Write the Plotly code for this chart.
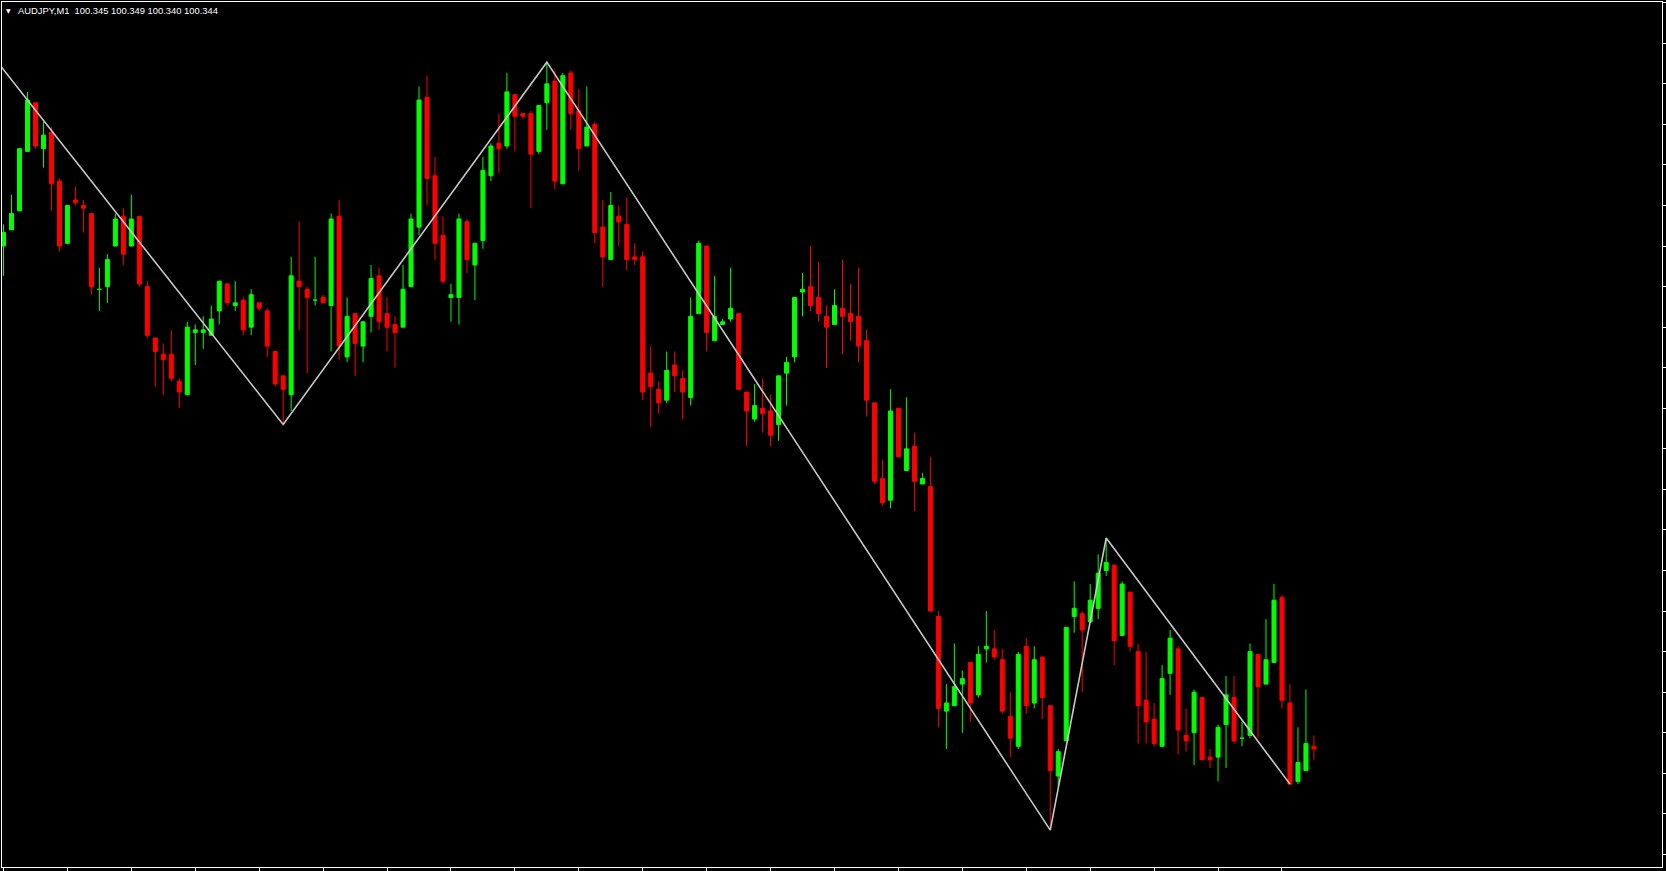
import plotly.graph_objects as go

# ---------------- data ----------------
symbol = "AUDJPY,M1"
bar_index = list(range(165))

opens = [100.530, 100.536, 100.543, 100.565, 100.583, 100.566, 100.572, 100.554, 100.531, 100.547,
         100.545, 100.542, 100.514, 100.515, 100.530, 100.541, 100.530, 100.541, 100.515, 100.496,
         100.490, 100.490, 100.480, 100.475, 100.498, 100.498, 100.497, 100.506, 100.516, 100.508,
         100.510, 100.500, 100.509, 100.506, 100.491, 100.482, 100.475, 100.517, 100.514, 100.510,
         100.511, 100.508, 100.541, 100.489, 100.505, 100.493, 100.504, 100.519, 100.505, 100.501,
         100.500, 100.515, 100.537, 100.585, 100.556, 100.534, 100.511, 100.511, 100.539, 100.523,
         100.532, 100.556, 100.568, 100.567, 100.586, 100.579, 100.579, 100.565, 100.583, 100.591,
         100.553, 100.594, 100.580, 100.567, 100.575, 100.537, 100.525, 100.541, 100.538, 100.526,
         100.526, 100.483, 100.477, 100.473, 100.486, 100.481, 100.474, 100.505, 100.530, 100.495,
         100.501, 100.503, 100.505, 100.476, 100.466, 100.470, 100.469, 100.464, 100.483, 100.489,
         100.513, 100.515, 100.511, 100.504, 100.501, 100.507, 100.505, 100.504, 100.495, 100.472,
         100.444, 100.436, 100.470, 100.447, 100.456, 100.442, 100.441, 100.393, 100.358, 100.360,
         100.368, 100.376, 100.364, 100.381, 100.381, 100.377, 100.356, 100.345, 100.382, 100.361,
         100.378, 100.360, 100.334, 100.347, 100.393, 100.394, 100.391, 100.396, 100.410, 100.412,
         100.386, 100.402, 100.380, 100.362, 100.355, 100.345, 100.372, 100.381, 100.349, 100.350,
         100.363, 100.341, 100.341, 100.353, 100.363, 100.348, 100.349, 100.379, 100.368, 100.376,
         100.400, 100.361, 100.332, 100.336, 100.345]

highs = [100.538, 100.549, 100.566, 100.587, 100.583, 100.576, 100.574, 100.555, 100.545, 100.552,
         100.547, 100.542, 100.522, 100.527, 100.542, 100.544, 100.549, 100.541, 100.517, 100.496,
         100.494, 100.499, 100.481, 100.502, 100.501, 100.504, 100.508, 100.517, 100.516, 100.517,
         100.511, 100.514, 100.509, 100.507, 100.491, 100.482, 100.526, 100.539, 100.515, 100.526,
         100.512, 100.542, 100.547, 100.511, 100.505, 100.502, 100.523, 100.522, 100.511, 100.504,
         100.523, 100.542, 100.589, 100.593, 100.563, 100.541, 100.516, 100.542, 100.540, 100.531,
         100.563, 100.568, 100.579, 100.594, 100.586, 100.579, 100.580, 100.582, 100.598, 100.595,
         100.594, 100.595, 100.588, 100.589, 100.576, 100.547, 100.550, 100.545, 100.548, 100.531,
         100.528, 100.493, 100.480, 100.491, 100.491, 100.484, 100.511, 100.532, 100.530, 100.519,
         100.503, 100.522, 100.505, 100.476, 100.479, 100.481, 100.475, 100.482, 100.489, 100.511,
         100.520, 100.530, 100.524, 100.508, 100.514, 100.525, 100.516, 100.522, 100.499, 100.472,
         100.451, 100.477, 100.470, 100.474, 100.461, 100.446, 100.452, 100.395, 100.368, 100.383,
         100.373, 100.376, 100.382, 100.395, 100.388, 100.381, 100.365, 100.380, 100.385, 100.382,
         100.378, 100.360, 100.344, 100.389, 100.406, 100.395, 100.405, 100.416, 100.422, 100.412,
         100.406, 100.402, 100.383, 100.380, 100.361, 100.375, 100.388, 100.382, 100.359, 100.366,
         100.363, 100.344, 100.353, 100.371, 100.371, 100.354, 100.383, 100.379, 100.392, 100.405,
         100.401, 100.368, 100.352, 100.366, 100.349]

lows = [100.519, 100.536, 100.543, 100.565, 100.566, 100.559, 100.543, 100.528, 100.531, 100.545,
        100.535, 100.512, 100.506, 100.509, 100.530, 100.523, 100.530, 100.515, 100.496, 100.478,
        100.475, 100.480, 100.470, 100.475, 100.486, 100.492, 100.497, 100.501, 100.508, 100.506,
        100.497, 100.497, 100.506, 100.489, 100.478, 100.464, 100.469, 100.499, 100.483, 100.508,
        100.509, 100.491, 100.488, 100.487, 100.482, 100.487, 100.498, 100.499, 100.491, 100.485,
        100.500, 100.515, 100.534, 100.545, 100.525, 100.516, 100.502, 100.501, 100.520, 100.510,
        100.529, 100.554, 100.557, 100.566, 100.565, 100.577, 100.544, 100.564, 100.573, 100.551,
        100.553, 100.573, 100.558, 100.567, 100.531, 100.515, 100.525, 100.530, 100.521, 100.523,
        100.473, 100.463, 100.468, 100.472, 100.476, 100.466, 100.471, 100.505, 100.491, 100.495,
        100.501, 100.502, 100.477, 100.456, 100.465, 100.461, 100.456, 100.458, 100.471, 100.487,
        100.504, 100.506, 100.502, 100.485, 100.501, 100.490, 100.495, 100.487, 100.467, 100.442,
        100.434, 100.433, 100.452, 100.447, 100.432, 100.442, 100.395, 100.352, 100.344, 100.360,
        100.350, 100.354, 100.363, 100.376, 100.377, 100.357, 100.341, 100.344, 100.357, 100.359,
        100.355, 100.314, 100.330, 100.347, 100.387, 100.365, 100.391, 100.392, 100.408, 100.375,
        100.386, 100.380, 100.346, 100.346, 100.345, 100.345, 100.364, 100.342, 100.343, 100.338,
        100.340, 100.337, 100.332, 100.337, 100.346, 100.345, 100.348, 100.348, 100.368, 100.376,
        100.359, 100.331, 100.331, 100.336, 100.340]

closes = [100.535, 100.542, 100.566, 100.584, 100.567, 100.571, 100.553, 100.530, 100.545, 100.546,
          100.544, 100.515, 100.514, 100.525, 100.540, 100.527, 100.540, 100.516, 100.497, 100.491,
          100.488, 100.481, 100.476, 100.500, 100.499, 100.499, 100.503, 100.517, 100.509, 100.509,
          100.499, 100.512, 100.507, 100.493, 100.479, 100.477, 100.519, 100.515, 100.511, 100.510,
          100.509, 100.540, 100.493, 100.504, 100.494, 100.502, 100.518, 100.502, 100.500, 100.498,
          100.514, 100.540, 100.584, 100.555, 100.531, 100.517, 100.512, 100.540, 100.525, 100.531,
          100.558, 100.567, 100.566, 100.587, 100.578, 100.578, 100.564, 100.582, 100.590, 100.554,
          100.593, 100.579, 100.566, 100.574, 100.535, 100.526, 100.545, 100.539, 100.525, 100.525,
          100.476, 100.478, 100.472, 100.484, 100.482, 100.476, 100.504, 100.531, 100.498, 100.504,
          100.502, 100.507, 100.477, 100.469, 100.471, 100.468, 100.460, 100.482, 100.487, 100.511,
          100.514, 100.508, 100.505, 100.500, 100.508, 100.504, 100.502, 100.493, 100.473, 100.443,
          100.435, 100.469, 100.452, 100.455, 100.443, 100.444, 100.395, 100.359, 100.361, 100.367,
          100.370, 100.361, 100.379, 100.382, 100.378, 100.358, 100.348, 100.379, 100.360, 100.377,
          100.363, 100.336, 100.343, 100.389, 100.396, 100.388, 100.399, 100.409, 100.413, 100.384,
          100.405, 100.382, 100.360, 100.354, 100.346, 100.370, 100.385, 100.351, 100.347, 100.365,
          100.340, 100.340, 100.352, 100.364, 100.347, 100.348, 100.380, 100.367, 100.377, 100.399,
          100.362, 100.331, 100.339, 100.346, 100.344]

zigzag_index = [-1, 35, 68, 131, 138, 161]
zigzag_price = [100.599, 100.464, 100.598, 100.314, 100.422, 100.331]

time_tick_index = list(range(0, 161, 8))

# ---------------- style ----------------
UP = "#00FF00"
DOWN = "#FF0000"
ZIGZAG = "#C8C8C8"

is_up = [c >= o for o, c in zip(opens, closes)]
body_base = [min(o, c) for o, c in zip(opens, closes)]
body_height = [max(abs(c - o), 1e-5) for o, c in zip(opens, closes)]
body_color = [UP if u else DOWN for u in is_up]

fig = go.Figure()

for col, flag in ((UP, True), (DOWN, False)):
    wx, wy = [], []
    for i, h, l, u in zip(bar_index, highs, lows, is_up):
        if u == flag:
            wx += [i, i, None]
            wy += [l, h, None]
    fig.add_trace(go.Scatter(x=wx, y=wy, mode="lines", line=dict(color=col, width=1),
                             hoverinfo="skip", showlegend=False))

fig.add_trace(go.Bar(x=bar_index, y=body_height, base=body_base, width=0.5,
                     marker=dict(color=body_color, line=dict(color=body_color, width=1)),
                     hoverinfo="skip", showlegend=False))

fig.add_trace(go.Scatter(x=zigzag_index, y=zigzag_price, mode="lines",
                         line=dict(color=ZIGZAG, width=1.6), hoverinfo="skip", showlegend=False))

# pixel calibration of the chart window
W, H = 1666, 871
ML, MR, MT, MB = 1, 3, 1, 4
bar_px = 8.0
first_bar_px = 2.5
x_lo = -(first_bar_px - ML) / bar_px
x_hi = x_lo + (W - ML - MR) / bar_px
px_per_price = 2707.0
ref_price, ref_px = 100.620, 1.7
y_hi = ref_price + (ref_px - MT) / px_per_price
y_lo = y_hi - (H - MT - MB) / px_per_price

fig.update_layout(
    width=W, height=H,
    margin=dict(l=ML, r=MR, t=MT, b=MB, pad=0),
    paper_bgcolor="black", plot_bgcolor="black",
    barmode="overlay", showlegend=False, hovermode=False,
    xaxis=dict(range=[x_lo, x_hi], showgrid=False, zeroline=False,
               showline=True, linecolor="white", linewidth=1, mirror=True,
               ticks="outside", ticklen=3, tickwidth=1, tickcolor="white",
               tickmode="array", tickvals=time_tick_index, showticklabels=False),
    yaxis=dict(range=[y_lo, y_hi], side="right", showgrid=False, zeroline=False,
               showline=True, linecolor="white", linewidth=1, mirror=True,
               ticks="outside", ticklen=3, tickwidth=1, tickcolor="white",
               tick0=100.620, dtick=0.015, showticklabels=False),
    annotations=[
        dict(text="\u25BC", x=0, y=1, xref="paper", yref="paper", xanchor="left", yanchor="top",
             xshift=2, yshift=-3, showarrow=False,
             font=dict(family="DejaVu Sans", size=6, color="white")),
        dict(text=f"{symbol}\u00a0\u00a0{opens[-1]:.3f}\u00a0{highs[-1]:.3f}\u00a0{lows[-1]:.3f}\u00a0{closes[-1]:.3f}",
             x=0, y=1, xref="paper", yref="paper", xanchor="left", yanchor="top",
             xshift=14, yshift=-1, showarrow=False,
             font=dict(family="Liberation Sans", size=9.4, color="white")),
    ],
)

fig.write_html("out.html", config={"displayModeBar": False},
               post_script="document.body.style.margin='0';document.body.style.overflow='hidden';")
